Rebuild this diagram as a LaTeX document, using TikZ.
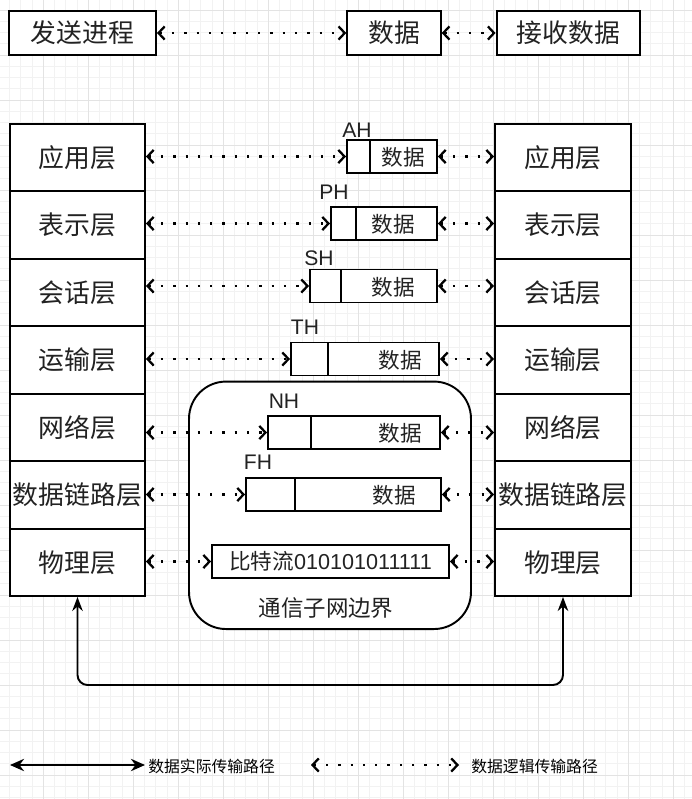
\documentclass[tikz,border=0pt]{standalone}
\usepackage{fontspec}
\setmainfont{Liberation Sans}
\newfontfamily\cjk{Noto Sans CJK SC}
\usetikzlibrary{arrows.meta}
\definecolor{txt}{HTML}{222222}
\tikzset{
  box/.style={draw, line width=1.1pt, fill=white, inner sep=0pt, text=txt},
  layer/.style={box, minimum width=2.7cm, minimum height=1.3486cm, font=\cjk\fontsize{14.7}{16}\selectfont},
  topbox/.style={box, minimum height=0.886cm, font=\cjk\fontsize{14.7}{16}\selectfont},
  pkt/.style={box, minimum height=0.66cm, font=\fontsize{12.3}{14}\selectfont},
  dtext/.style={font=\cjk\fontsize{12.3}{14}\selectfont, text=txt, inner sep=0pt},
  tag/.style={font=\fontsize{12}{14}\selectfont, text=txt, inner sep=0pt},
  legend/.style={font=\cjk\fontsize{9}{11}\selectfont, inner sep=0pt, anchor=west},
  logic/.style={line width=1.3pt, dash pattern=on 1.3pt off 5.7pt,
    {Straight Barb[length=3.5pt,width=7.5pt]}-{Straight Barb[length=3.5pt,width=7.5pt]}},
  real/.style={line width=1.1pt, {Stealth[length=8pt,width=6pt]}-{Stealth[length=8pt,width=6pt]}},
  minorgrid/.style={black!5, line width=0.5pt},
  majorgrid/.style={black!11, line width=0.5pt},
}
\begin{document}
\begin{tikzpicture}[x=0.02cm, y=-0.02cm]
  \useasboundingbox (0,0) rectangle (692,799);
  % background grid
  \foreach \k in {1,...,61} \draw[minorgrid] ({-1.7+11.25*\k},0) -- ++(0,799);
  \foreach \k in {-1,...,70} \draw[minorgrid] (0,{10+11.25*\k}) -- ++(692,0);
  \foreach \k in {1,...,15} \draw[majorgrid] ({-1.7+45*\k},0) -- ++(0,799);
  \foreach \k in {0,...,17} \draw[majorgrid] (0,{10+45*\k}) -- ++(692,0);

  % top row
  \node[topbox, minimum width=2.94cm] (send) at (82.5,33) {发送进程};
  \node[topbox, minimum width=1.87cm] (msg) at (394,33) {数据};
  \node[topbox, minimum width=2.87cm] (recv) at (568.3,33) {接收数据};
  \draw[logic] (send) -- (msg);
  \draw[logic] (msg) -- (recv);

  % the two stacks
  \foreach \t [count=\i] in {应用层,表示层,会话层,运输层,网络层,数据链路层,物理层} {
    \node[layer] (l\i) at (77.5,{124+67.43*(\i-0.5)}) {\t};
    \node[layer, minimum width=2.72cm] (r\i) at (563,{124+67.43*(\i-0.5)}) {\t};
  }

  % subnet boundary
  \node[box, rounded corners=0.74cm, minimum width=5.64cm, minimum height=4.95cm] (sub) at (330,505.3) {};
  \node[dtext, font=\cjk\fontsize{12.8}{14}\selectfont] (subt) at (326,608) {通信子网边界};

  % packets
  \foreach \n/\i/\a/\b/\c/\y/\tx/\lx/\ly in {
      AH/1/347/370/437/156.5/403/357/130.5,
      PH/2/331/356/437/223.5/393/334/192,
      SH/3/310/341/437/286/393/319/258,
      TH/4/291/328/439/359/400/305/327,
      NH/5/268/311/440/432.5/400/284/401,
      FH/6/246/295/441/494.5/394/258/462} {
    \node[pkt, minimum width={(\b-\a)*0.02cm}] (\n-h) at ({(\a+\b)/2},\y) {};
    \node[pkt, minimum width={(\c-\b)*0.02cm}] (\n-d) at ({(\b+\c)/2},\y) {};
    \node[dtext] (\n-t) at (\tx,{\y+1}) {数据};
    \node[tag] (\n-l) at (\lx,\ly) {\n};
    \draw[logic] (l\i.east |- \n-h.west) -- (\n-h.west);
    \draw[logic] (\n-d.east) -- (\n-d.east -| r\i.west);
  }
  \node[pkt, minimum width=4.74cm] (bit) at (330.5,561.5) {{\cjk 比特流}010101011111};
  \draw[logic] (l7.east |- bit.west) -- (bit.west);
  \draw[logic] (bit.east) -- (bit.east -| r7.west);

  % physical path
  \draw[real, rounded corners=0.2cm] (l7.south) -- (l7.south |- 0,685) -- (r7.south |- 0,685) -- (r7.south);

  % legend
  \coordinate (ra) at (10,765);
  \coordinate (rb) at (145,765);
  \draw[real, {Stealth[length=8pt,width=7pt]}-{Stealth[length=8pt,width=7pt]}] (ra) -- (rb);
  \node[legend] (rt) at (148,766) {数据实际传输路径};
  \coordinate (la) at (311,765);
  \coordinate (lb) at (459,765);
  \draw[logic] (la) -- (lb);
  \node[legend] (lt) at (471,766) {数据逻辑传输路径};
\end{tikzpicture}
\end{document}
